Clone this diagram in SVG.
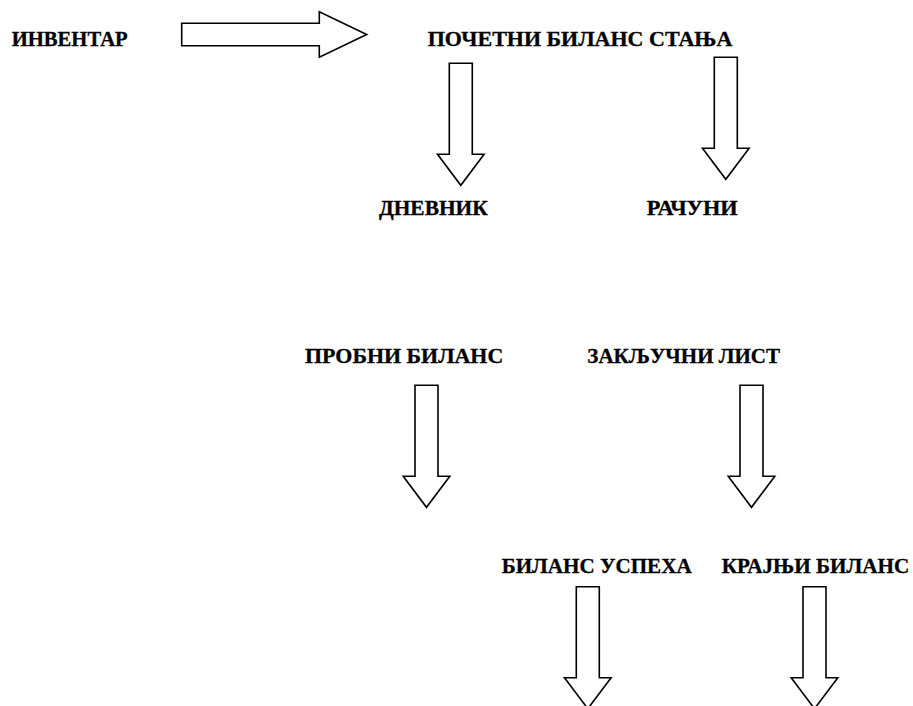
<svg xmlns="http://www.w3.org/2000/svg" xmlns:xlink="http://www.w3.org/1999/xlink" width="913" height="706" viewBox="0 0 913 706">
<style>
.lbl{font-family:"Liberation Serif","Times New Roman",serif;font-weight:bold;font-size:20.5px;fill:#000;stroke:#000;stroke-width:0.3}
.arr{fill:#fff;stroke:#000;stroke-width:1.6;stroke-linejoin:miter}
</style>
<defs>
<path id="down" d="M-11.5,0 H11.5 V91 H23.3 L0,122 L-23.3,91 H-11.5 Z"/>
</defs>
<rect width="913" height="706" fill="#fff"/>
<g id="connectors">
<polygon class="arr" points="181.7,23.3 319.3,23.3 319.3,11.7 366.7,34.5 319.3,57.3 319.3,45.7 181.7,45.7"/>
<use class="arr" xlink:href="#down" transform="translate(460.8,63.3)"/>
<use class="arr" xlink:href="#down" transform="translate(725.8,57.3)"/>
<use class="arr" xlink:href="#down" transform="translate(426.5,385.3)"/>
<use class="arr" xlink:href="#down" transform="translate(751.5,385.3)"/>
<use class="arr" xlink:href="#down" transform="translate(587.8,586.7)"/>
<use class="arr" xlink:href="#down" transform="translate(814.5,586.7)"/>
</g>
<g id="inventar"><text class="lbl" x="11.7" y="46" textLength="116" lengthAdjust="spacingAndGlyphs">ИНВЕНТАР</text></g>
<g id="pocetni"><text class="lbl" x="427.7" y="45.7" textLength="304.6" lengthAdjust="spacingAndGlyphs">ПОЧЕТНИ БИЛАНС СТАЊА</text></g>
<g id="dnevnik"><text class="lbl" x="379" y="215" textLength="108.7" lengthAdjust="spacingAndGlyphs">ДНЕВНИК</text></g>
<g id="racuni"><text class="lbl" x="646.7" y="215" textLength="91" lengthAdjust="spacingAndGlyphs">РАЧУНИ</text></g>
<g id="probni"><text class="lbl" x="305" y="363.3" textLength="198.3" lengthAdjust="spacingAndGlyphs">ПРОБНИ БИЛАНС</text></g>
<g id="zakljucni"><text class="lbl" x="587.3" y="363.3" textLength="192.7" lengthAdjust="spacingAndGlyphs">ЗАКЉУЧНИ ЛИСТ</text></g>
<g id="uspeh"><text class="lbl" x="501.7" y="573.3" textLength="190" lengthAdjust="spacingAndGlyphs">БИЛАНС УСПЕХА</text></g>
<g id="krajnji"><text class="lbl" x="721.7" y="573.3" textLength="187.6" lengthAdjust="spacingAndGlyphs">КРАЈЊИ БИЛАНС</text></g>
</svg>
